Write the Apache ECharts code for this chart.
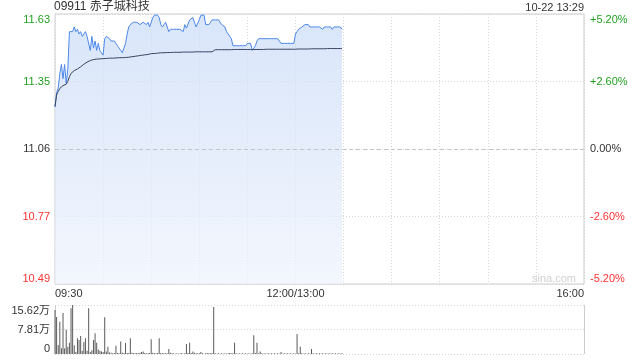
<!DOCTYPE html>
<html><head><meta charset="utf-8">
<script src="https://cdn.jsdelivr.net/npm/echarts@6/dist/echarts.min.js"></script>
<style>html,body{margin:0;padding:0;background:#fff}#c{width:640px;height:360px}</style>
</head><body><div id="c"></div>
<script>
// ---- data ----
const stockTitle = '09911 赤子城科技';
const stampText = '10-22 13:29';
const watermark = 'sina.com';
const prevClose = 11.06;
const pctMin = -5.2, pctMax = 5.2, pctStep = 2.6;
const priceTickLabels = ['10.49', '10.77', '11.06', '11.35', '11.63'];
const pctTickLabels = ['-5.20%', '-2.60%', '0.00%', '+2.60%', '+5.20%'];
const volTickLabels = ['0', '7.81万', '15.62万'];
const timeTickLabels = {0: '09:30', 150: '12:00/13:00', 330: '16:00'};
const totalMinutes = 330;
const volMax = 156200;

const price = [
 11.24,11.30,11.32,11.38,11.42,11.36,11.42,11.34,11.40,11.56,
 11.56,11.56,11.58,11.56,11.57,11.55,11.56,11.54,11.55,11.56,
 11.54,11.54,11.48,11.54,11.49,11.52,11.48,11.51,11.48,11.47,
 11.46,11.53,11.54,11.54,11.53,11.52,11.52,11.52,11.51,11.50,
 11.49,11.48,11.47,11.47,11.51,11.55,11.58,11.59,11.59,11.60,
 11.60,11.60,11.60,11.59,11.59,11.60,11.60,11.59,11.60,11.58,
 11.58,11.62,11.63,11.63,11.63,11.62,11.59,11.58,11.59,11.60,
 11.60,11.56,11.57,11.57,11.57,11.57,11.57,11.57,11.57,11.57,
 11.56,11.59,11.575,11.58,11.61,11.61,11.62,11.62,11.58,11.58,
 11.61,11.63,11.63,11.63,11.59,11.59,11.59,11.60,11.61,11.61,
 11.61,11.61,11.61,11.61,11.59,11.59,11.58,11.56,11.55,11.54,
 11.53,11.50,11.50,11.50,11.50,11.50,11.50,11.50,11.50,11.50,
 11.51,11.51,11.51,11.48,11.49,11.50,11.52,11.53,11.53,11.53,
 11.53,11.53,11.53,11.53,11.53,11.53,11.53,11.53,11.53,11.53,
 11.53,11.51,11.51,11.51,11.51,11.51,11.51,11.51,11.51,11.51,
 11.55,11.56,11.57,11.57,11.58,11.58,11.59,11.59,11.59,11.58,
 11.58,11.58,11.58,11.58,11.58,11.58,11.58,11.57,11.58,11.58,
 11.58,11.58,11.58,11.57,11.58,11.58,11.58,11.58,11.58,11.57
];

const avgPrice = [
 11.240,11.290,11.305,11.318,11.325,11.330,11.333,11.336,11.348,11.368,
 11.382,11.390,11.394,11.397,11.401,11.405,11.410,11.416,11.421,11.426,
 11.430,11.434,11.437,11.440,11.441,11.442,11.443,11.444,11.444,11.445,
 11.445,11.446,11.446,11.447,11.447,11.447,11.447,11.448,11.448,11.448,
 11.449,11.449,11.449,11.449,11.450,11.450,11.451,11.452,11.453,11.454,
 11.455,11.456,11.457,11.458,11.459,11.460,11.461,11.462,11.463,11.464,
 11.466,11.467,11.467,11.468,11.468,11.469,11.470,11.470,11.470,11.471,
 11.471,11.471,11.471,11.472,11.472,11.472,11.472,11.472,11.472,11.472,
 11.473,11.473,11.473,11.473,11.473,11.473,11.473,11.474,11.474,11.474,
 11.474,11.474,11.474,11.474,11.474,11.474,11.474,11.474,11.474,11.482,
 11.483,11.483,11.483,11.483,11.483,11.483,11.483,11.483,11.483,11.483,
 11.483,11.483,11.484,11.484,11.484,11.484,11.484,11.484,11.484,11.484,
 11.484,11.484,11.484,11.484,11.484,11.484,11.484,11.484,11.484,11.484,
 11.484,11.484,11.485,11.485,11.485,11.485,11.485,11.485,11.485,11.485,
 11.485,11.485,11.485,11.485,11.485,11.485,11.485,11.485,11.485,11.485,
 11.485,11.486,11.486,11.486,11.486,11.486,11.486,11.486,11.486,11.487,
 11.487,11.487,11.487,11.487,11.487,11.487,11.487,11.487,11.487,11.487,
 11.488,11.488,11.488,11.488,11.488,11.488,11.488,11.488,11.488,11.488
];

const volume = [
 140000,118000,29000,103000,18000,131000,18000,77000,23000,36000,
 146000,156200,28000,6000,50000,45000,57000,10000,38000,50000,
 10000,146000,6000,12000,45000,66000,36000,14000,10000,8000,
 6000,117000,8000,23000,5000,4000,2000,3000,26000,3000,
 2000,40000,4000,3000,35000,3000,3000,50000,4000,2000,
 2000,3000,2000,4000,6000,8000,3000,2000,2000,3000,
 47000,4000,2000,2000,3000,50000,3000,2000,2000,2000,
 2000,16000,4000,2000,2000,1000,2000,1000,2000,2000,
 1000,2000,32000,3000,36000,3000,8000,4000,2000,2000,
 2000,6000,2000,1000,2000,3000,2000,2000,3000,150000,
 2000,1000,2000,1000,2000,1000,2000,1000,2000,3000,
 2000,2000,36000,2000,1000,2000,1000,2000,1000,2000,
 1000,2000,1000,2000,60000,3000,36000,2000,8000,2000,
 1000,2000,1000,2000,1000,2000,1000,2000,1000,2000,
 1000,6000,1000,2000,1000,2000,1000,2000,1000,2000,
 1000,64000,2000,23000,2000,1000,2000,1000,2000,1000,
 16000,2000,1000,2000,1000,2000,1000,2000,1000,2000,
 1000,2000,1000,2000,1000,2000,1000,2000,1000,2000
];

// ---- chart ----
const FONT = "'Liberation Sans', Arial, 'Noto Sans CJK SC', sans-serif";
const UP = '#22a022', DOWN = '#ff3333', FLAT = '#333';
const toPct = p => (p / prevClose - 1) * 100;
const tickIdx = v => Math.round((+v - pctMin) / pctStep);
const tickColor = v => { const k = tickIdx(v); return k === 2 ? FLAT : (k > 2 ? UP : DOWN); };

const chart = echarts.init(document.getElementById('c'), null, {renderer: 'canvas'});
chart.setOption({
  animation: false,
  backgroundColor: '#fff',
  textStyle: {fontFamily: FONT},
  title: [
    {text: stockTitle, left: 54, top: 1, padding: 0,
     textStyle: {fontSize: 12, fontWeight: 'normal', color: '#333', fontFamily: FONT}},
    {text: stampText, right: 56, top: 2, padding: 0,
     textStyle: {fontSize: 11, fontWeight: 'normal', color: '#333', fontFamily: FONT}},
    {text: watermark, left: 532, top: 273, padding: 0,
     textStyle: {fontSize: 11, fontWeight: 'normal', color: '#d0d0d0', fontFamily: FONT}}
  ],
  grid: [
    {left: 55, right: 56, top: 14, height: 270, show: true, borderColor: '#ccc', borderWidth: 1, containLabel: false},
    {left: 55, right: 56, top: 305, height: 49, show: false, containLabel: false}
  ],
  xAxis: [
    {gridIndex: 0, type: 'value', min: 0, max: totalMinutes, interval: 30,
     axisLine: {show: false}, axisTick: {show: false},
     splitLine: {show: true, lineStyle: {color: '#d6d6d6', type: [1, 2], width: 1}},
     axisLabel: {formatter: v => timeTickLabels[v] || '', alignMinLabel: 'left', alignMaxLabel: 'right',
                 margin: 4, fontSize: 11, color: '#333', fontFamily: FONT}},
    {gridIndex: 1, type: 'value', min: 0, max: totalMinutes, interval: totalMinutes,
     axisLine: {show: false}, axisTick: {show: false}, axisLabel: {show: false},
     splitLine: {show: true, lineStyle: {color: '#ccc', type: 'solid', width: 1}}}
  ],
  yAxis: [
    {gridIndex: 0, type: 'value', position: 'left', min: pctMin, max: pctMax, interval: pctStep,
     axisLine: {show: false}, axisTick: {show: false},
     splitLine: {show: true, lineStyle: {color: '#d6d6d6', type: [1, 2], width: 1}},
     axisLabel: {margin: 5, fontSize: 11, fontFamily: FONT,
       verticalAlignMinLabel: 'bottom', verticalAlignMaxLabel: 'top',
       formatter: v => priceTickLabels[tickIdx(v)] || '',
       color: tickColor}},
    {gridIndex: 0, type: 'value', position: 'right', min: pctMin, max: pctMax, interval: pctStep,
     axisLine: {show: false}, axisTick: {show: false}, splitLine: {show: false},
     axisLabel: {margin: 6, fontSize: 11, fontFamily: FONT,
       verticalAlignMinLabel: 'bottom', verticalAlignMaxLabel: 'top',
       formatter: v => pctTickLabels[tickIdx(v)] || '',
       color: tickColor}},
    {gridIndex: 1, type: 'value', min: 0, max: volMax, interval: volMax / 2,
     axisLine: {show: false}, axisTick: {show: false},
     splitLine: {show: true, lineStyle: {color: '#d6d6d6', type: [1, 2], width: 1}},
     axisLabel: {margin: 5, fontSize: 11, fontFamily: FONT, color: '#333',
       verticalAlignMinLabel: 'bottom', verticalAlignMaxLabel: 'top',
       formatter: v => volTickLabels[Math.round(v / (volMax / 2))] || ''}}
  ],
  series: [
    {name: 'price', type: 'line', xAxisIndex: 0, yAxisIndex: 0, showSymbol: false, symbol: 'none',
     data: price.map((p, i) => [i, toPct(p)]),
     lineStyle: {color: '#4d88ea', width: 1},
     areaStyle: {origin: 'start', color: new echarts.graphic.LinearGradient(0, 0, 0, 1, [
       {offset: 0, color: '#c8daf7'}, {offset: 1, color: '#eef3fd'}])},
     markLine: {silent: true, symbol: 'none', label: {show: false},
       lineStyle: {color: '#c4c4c4', type: [4, 3], width: 1},
       data: [{yAxis: 0}]}},
    {name: 'avg', type: 'line', xAxisIndex: 0, yAxisIndex: 0, showSymbol: false, symbol: 'none',
     data: avgPrice.map((p, i) => [i, toPct(p)]),
     lineStyle: {color: '#3a4560', width: 1}},
    {name: 'volume', type: 'bar', xAxisIndex: 1, yAxisIndex: 2, barWidth: 1,
     data: volume.map((v, i) => [i, v]),
     itemStyle: {color: '#5a5a5a'}}
  ]
});
</script>
</body></html>
